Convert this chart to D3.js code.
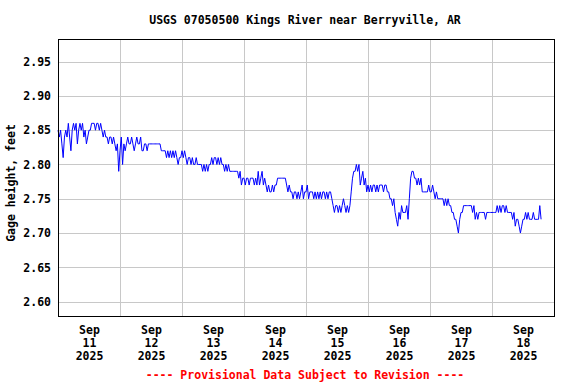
<!DOCTYPE html>
<html>
<head>
<meta charset="utf-8">
<script src="https://cdn.jsdelivr.net/npm/d3@7"></script>
<style>
  html, body { margin: 0; padding: 0; background: #fff; }
  svg { display: block; }
  text { font-family: "DejaVu Sans Mono", "Liberation Mono", monospace; font-weight: bold; font-size: 11.5px; }
</style>
</head>
<body>
<svg id="chart" width="576" height="384"></svg>
<script>
// ---- Data (gage height, feet; 30-minute readings starting Sep 11 2025 00:00) ----
const chartTitle = "USGS 07050500 Kings River near Berryville, AR";
const yAxisTitle = "Gage height, feet";
const footerText = "---- Provisional Data Subject to Revision ----";

const sep11 = [2.85,2.84,2.85,2.83,2.81,2.84,2.85,2.84,2.86,2.84,2.82,2.85,2.86,2.85,2.86,2.83,
               2.85,2.86,2.85,2.86,2.84,2.85,2.83,2.84,2.85,2.85,2.86,2.86,2.86,2.85,2.86,2.86,
               2.85,2.86,2.85,2.84,2.85,2.84,2.84,2.83,2.84,2.84,2.83,2.84,2.83,2.82,2.83,2.79];
const sep12 = [2.82,2.84,2.80,2.83,2.82,2.83,2.84,2.83,2.83,2.84,2.83,2.82,2.83,2.84,2.83,2.83,
               2.84,2.82,2.82,2.83,2.83,2.82,2.83,2.83,2.83,2.83,2.83,2.83,2.83,2.83,2.83,2.83,
               2.82,2.82,2.82,2.82,2.81,2.82,2.81,2.82,2.81,2.82,2.81,2.82,2.81,2.80,2.81,2.81];
const sep13 = [2.82,2.81,2.82,2.81,2.80,2.81,2.81,2.80,2.81,2.80,2.80,2.81,2.80,2.80,2.80,2.80,
               2.79,2.80,2.79,2.80,2.79,2.80,2.80,2.81,2.80,2.81,2.81,2.80,2.81,2.80,2.81,2.80,
               2.80,2.79,2.80,2.79,2.80,2.79,2.79,2.79,2.79,2.79,2.79,2.79,2.78,2.79,2.77,2.78];
const sep14 = [2.78,2.77,2.78,2.78,2.77,2.78,2.78,2.78,2.77,2.78,2.77,2.79,2.77,2.78,2.79,2.77,
               2.78,2.77,2.76,2.77,2.76,2.76,2.77,2.76,2.77,2.77,2.78,2.78,2.78,2.78,2.78,2.78,
               2.78,2.77,2.76,2.77,2.76,2.76,2.75,2.76,2.76,2.75,2.76,2.75,2.76,2.77,2.75,2.76];
const sep15 = [2.76,2.77,2.75,2.76,2.76,2.76,2.75,2.76,2.75,2.76,2.75,2.76,2.75,2.76,2.76,2.75,
               2.76,2.75,2.76,2.76,2.75,2.74,2.73,2.74,2.74,2.73,2.74,2.73,2.74,2.75,2.74,2.73,
               2.74,2.73,2.74,2.76,2.78,2.79,2.79,2.80,2.79,2.80,2.77,2.78,2.79,2.77,2.78,2.76];
const sep16 = [2.77,2.76,2.77,2.76,2.77,2.77,2.76,2.77,2.76,2.77,2.77,2.77,2.76,2.77,2.77,2.76,
               2.76,2.75,2.75,2.74,2.75,2.73,2.72,2.71,2.73,2.72,2.74,2.73,2.73,2.73,2.74,2.72,
               2.75,2.78,2.79,2.79,2.78,2.78,2.77,2.78,2.77,2.78,2.76,2.76,2.76,2.76,2.76,2.77];
const sep17 = [2.76,2.76,2.77,2.76,2.75,2.76,2.75,2.75,2.75,2.75,2.75,2.74,2.75,2.74,2.75,2.74,
               2.74,2.73,2.73,2.72,2.72,2.71,2.70,2.72,2.73,2.73,2.74,2.74,2.74,2.74,2.74,2.74,
               2.74,2.73,2.74,2.72,2.73,2.72,2.73,2.73,2.73,2.73,2.73,2.72,2.73,2.73,2.73,2.73];
const sep18 = [2.73,2.73,2.73,2.73,2.74,2.73,2.74,2.73,2.74,2.74,2.73,2.74,2.73,2.73,2.73,2.73,
               2.72,2.73,2.71,2.72,2.72,2.71,2.70,2.71,2.72,2.72,2.73,2.72,2.73,2.72,2.72,2.72,
               2.73,2.72,2.72,2.72,2.72,2.74,2.72];

const gageHeight = [].concat(sep11, sep12, sep13, sep14, sep15, sep16, sep17, sep18);

const dayLabels = ["11","12","13","14","15","16","17","18"];
const monthLabel = "Sep";
const yearLabel = "2025";
const yTicks = [2.60, 2.65, 2.70, 2.75, 2.80, 2.85, 2.90, 2.95];

// ---- Setup ----
const startTime = Date.UTC(2025, 8, 11, 0, 0);
const endTime = Date.UTC(2025, 8, 19, 0, 0);
const stepMs = 30 * 60 * 1000;
const data = gageHeight.map((v, i) => ({ t: new Date(startTime + i * stepMs), v }));

const plot = { left: 58, right: 554, top: 39, bottom: 316 };
const svg = d3.select("#chart");

const x = d3.scaleUtc().domain([new Date(startTime), new Date(endTime)]).range([plot.left, plot.right]);
const y = d3.scaleLinear().domain([2.579, 2.983]).range([plot.bottom, plot.top]);

const crisp = v => Math.round(v) + 0.5;

// Horizontal gridlines
svg.append("g").selectAll("line").data(yTicks).join("line")
  .attr("x1", plot.left).attr("x2", plot.right)
  .attr("y1", d => crisp(y(d))).attr("y2", d => crisp(y(d)))
  .attr("stroke", "#c8c8c8").attr("stroke-width", 1);

// Vertical gridlines at midnight
const midnights = dayLabels.slice(1).map((d, i) => new Date(startTime + (i + 1) * 86400000));
svg.append("g").selectAll("line").data(midnights).join("line")
  .attr("x1", d => crisp(x(d))).attr("x2", d => crisp(x(d)))
  .attr("y1", plot.top).attr("y2", plot.bottom)
  .attr("stroke", "#c8c8c8").attr("stroke-width", 1);

// Data line
const line = d3.line().x(d => x(d.t)).y(d => y(d.v)).curve(d3.curveLinear);
svg.append("path").datum(data)
  .attr("d", line)
  .attr("fill", "none")
  .attr("stroke", "#0000ff")
  .attr("stroke-width", 1);

// Plot frame
svg.append("rect")
  .attr("x", plot.left + 0.5).attr("y", plot.top + 0.5)
  .attr("width", plot.right - plot.left).attr("height", plot.bottom - plot.top)
  .attr("fill", "none").attr("stroke", "#000").attr("stroke-width", 1);

// Y axis labels
const yAxis = d3.axisLeft(y).tickValues(yTicks).tickFormat(d3.format(".2f")).tickSize(0).tickPadding(7);
const gy = svg.append("g").attr("transform", `translate(${plot.left},0)`).call(yAxis);
gy.select(".domain").remove();
gy.selectAll("text").attr("fill", "#000").style("font-family", null).style("font-size", null)
  .attr("font-family", null).attr("font-size", null);

// X axis labels (three lines at noon of each day)
const noons = dayLabels.map((d, i) => new Date(startTime + i * 86400000 + 43200000));
const xAxis = d3.axisBottom(x).tickValues(noons).tickSize(0).tickFormat(() => "");
const gx = svg.append("g").attr("transform", `translate(0,${plot.bottom})`).call(xAxis);
gx.select(".domain").remove();
gx.attr("font-family", null).attr("font-size", null);
gx.selectAll(".tick text").each(function(d, i) {
  const t = d3.select(this).attr("y", 0).attr("dy", null).attr("fill", "#000");
  t.append("tspan").attr("x", 0).attr("y", 18).text(monthLabel);
  t.append("tspan").attr("x", 0).attr("y", 31).text(dayLabels[i]);
  t.append("tspan").attr("x", 0).attr("y", 44).text(yearLabel);
});

// Title
svg.append("text").attr("x", 305).attr("y", 24).attr("text-anchor", "middle").attr("fill", "#000").text(chartTitle);

// Y axis title
svg.append("text").attr("transform", "translate(15,183) rotate(-90)")
  .attr("text-anchor", "middle").attr("fill", "#000").text(yAxisTitle);

// Footer
svg.append("text").attr("x", 305).attr("y", 379).attr("text-anchor", "middle").attr("fill", "#ff0000").text(footerText);
</script>
</body>
</html>
